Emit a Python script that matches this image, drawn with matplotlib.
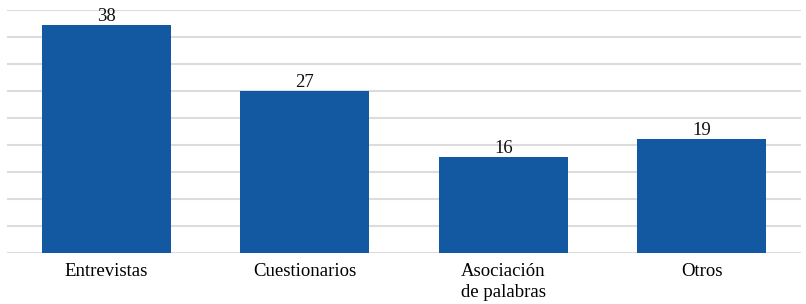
import matplotlib.pyplot as plt

categories = ["Entrevistas", "Cuestionarios", "Asociación\nde palabras", "Otros"]
values = [38, 27, 16, 19]


def main() -> None:
    plt.rcParams["font.family"] = ["Liberation Serif", "DejaVu Serif"]

    fig = plt.figure(figsize=(8.06, 3.04), dpi=100)
    ax = fig.add_axes([7 / 806, 51 / 304, 794 / 806, 243 / 304])

    x = range(len(categories))
    bars = ax.bar(x, values, width=0.65, color="#1259A2", zorder=3)

    for b, v in zip(bars, values):
        ax.text(b.get_x() + b.get_width() / 2, v + 0.05, str(v),
                ha="center", va="bottom", fontsize=13.5, color="#111111")

    ax.set_xlim(-0.5, 3.5)
    ax.set_ylim(0, 40.5)
    ax.set_yticks([i * 4.5 for i in range(10)])
    ax.set_yticklabels([])
    ax.yaxis.grid(True, color="#DCDCDC", linewidth=1.5, zorder=0)
    ax.tick_params(axis="y", length=0)
    ax.tick_params(axis="x", length=0, pad=7, labelsize=13.5)
    ax.set_xticks(list(x))
    ax.set_xticklabels(categories, linespacing=1.35)
    for s in ax.spines.values():
        s.set_visible(False)

    fig.savefig("out.png", dpi=100)


if __name__ == "__main__":
    main()
